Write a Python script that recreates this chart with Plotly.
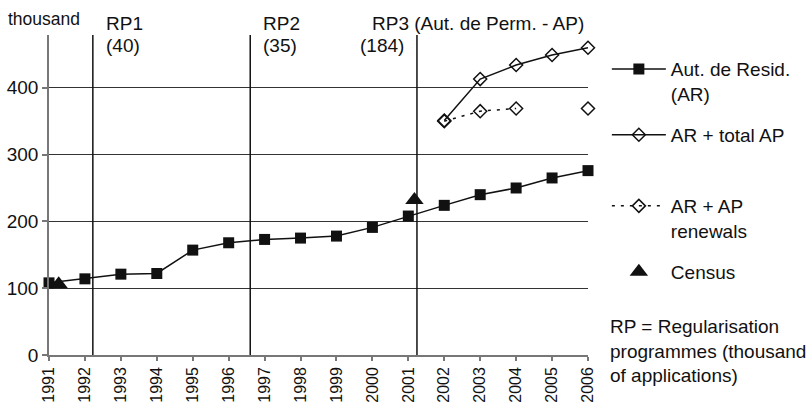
import plotly.graph_objects as go

# values (thousand)
years = list(range(1991, 2007))
ar_resid = [108, 114, 121, 122, 157, 168, 173, 175, 178, 191, 208, 224, 240, 250, 265, 276]

ap_years = [2002, 2003, 2004, 2005, 2006]
ar_total_ap = [351, 413, 434, 449, 460]
ar_ap_renewals = [350, 365, 369, None, 369]

census_x = [1991.27, 2001.17]
census_y = [106, 232]

rp_names = ['RP1', 'RP2', 'RP3']
rp_x = [1992.22, 1996.6, 2001.24]
rp_applications = [40, 35, 184]

FONT = 'Liberation Sans, Arial, sans-serif'
BLACK = '#111111'

fig = go.Figure()

fig.add_trace(go.Scatter(
    x=years, y=ar_resid, mode='lines+markers', name='Aut. de Resid.<br>(AR)',
    line=dict(color=BLACK, width=1.5),
    marker=dict(symbol='square', size=11, color=BLACK),
    cliponaxis=False, legend='legend'))

fig.add_trace(go.Scatter(
    x=ap_years, y=ar_total_ap, mode='lines+markers', name='AR + total AP',
    line=dict(color=BLACK, width=1.5),
    marker=dict(symbol='diamond-open', size=10, color=BLACK, line=dict(width=1.5)),
    cliponaxis=False, legend='legend2'))

fig.add_trace(go.Scatter(
    x=ap_years, y=ar_ap_renewals, mode='lines+markers', name='AR + AP<br>renewals',
    line=dict(color=BLACK, width=1.5, dash='3px,6px'),
    marker=dict(symbol='diamond-open', size=10, color=BLACK, line=dict(width=1.5)),
    connectgaps=False, cliponaxis=False, legend='legend3'))

fig.add_trace(go.Scatter(
    x=census_x, y=census_y, mode='markers', name='Census',
    marker=dict(symbol='triangle-up', size=16, color=BLACK),
    cliponaxis=False, legend='legend4'))

# regularisation programme lines
for xv in rp_x:
    fig.add_shape(type='line', xref='x', yref='paper', x0=xv, x1=xv, y0=0, y1=1,
                  line=dict(color=BLACK, width=1.5))

ann_font = dict(family=FONT, size=19, color=BLACK)
for name, xv, n in zip(rp_names[:2], rp_x[:2], rp_applications[:2]):
    fig.add_annotation(x=xv, y=1.035, xref='x', yref='paper', text=name,
                       showarrow=False, xanchor='left', yanchor='middle', xshift=11, font=ann_font)
    fig.add_annotation(x=xv, y=0.966, xref='x', yref='paper', text='(%d)' % n,
                       showarrow=False, xanchor='left', yanchor='middle', xshift=11, font=ann_font)
fig.add_annotation(x=rp_x[2], y=1.035, xref='x', yref='paper',
                   text=rp_names[2] + ' (Aut. de Perm. - AP)',
                   showarrow=False, xanchor='left', yanchor='middle', xshift=-47, font=ann_font)
fig.add_annotation(x=rp_x[2], y=0.966, xref='x', yref='paper', text='(%d)' % rp_applications[2],
                   showarrow=False, xanchor='right', yanchor='middle', xshift=-11, font=ann_font)

fig.add_annotation(x=0.061, y=1.05, xref='paper', yref='paper', text='thousand',
                   showarrow=False, xanchor='right', yanchor='middle',
                   font=dict(family=FONT, size=17.5, color=BLACK))

fig.add_annotation(x=1.037, y=0.0125, xref='paper', yref='paper',
                   text='RP = Regularisation<br>programmes (thousand<br>of applications)',
                   showarrow=False, xanchor='left', yanchor='middle', align='left', font=ann_font)

leg = dict(x=1.035, xanchor='left', yanchor='top', bgcolor='rgba(0,0,0,0)',
           font=dict(family=FONT, size=19, color=BLACK), itemwidth=54, valign='top')

fig.update_layout(
    width=809, height=402,
    margin=dict(l=49, r=221, t=35, b=47, autoexpand=False),
    paper_bgcolor='white', plot_bgcolor='white',
    font=dict(family=FONT, size=19, color=BLACK),
    showlegend=True,
    legend=dict(leg, y=0.953),
    legend2=dict(leg, y=0.747),
    legend3=dict(leg, y=0.525),
    legend4=dict(leg, y=0.319),
    xaxis=dict(range=[1991, 2006], tickmode='array', tickvals=years,
               ticktext=[str(y) for y in years], tickangle=-90, automargin=False,
               showgrid=False, zeroline=False, showline=True, linecolor='#777777', linewidth=1.5,
               ticks='outside', ticklen=4, tickcolor='#777777', tickwidth=1.5,
               tickfont=dict(family=FONT, size=16, color=BLACK)),
    yaxis=dict(range=[0, 479], tickvals=[0, 100, 200, 300, 400], automargin=False,
               showgrid=True, gridcolor='#333333', gridwidth=1, zeroline=False,
               showline=True, linecolor='#777777', linewidth=1.5,
               ticks='outside', ticklen=5, tickcolor='#777777', tickwidth=1.5,
               tickfont=dict(family=FONT, size=19, color=BLACK)),
)

fig.write_html("out.html", config={'displayModeBar': False},
               post_script="document.body.style.margin='0px';")
